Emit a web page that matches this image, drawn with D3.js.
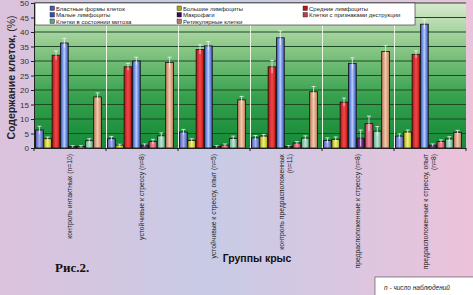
<!DOCTYPE html>
<html>
<head>
<meta charset="utf-8">
<script src="https://cdn.jsdelivr.net/npm/d3@7"></script>
<style>
  body { margin: 0; }
  svg { display: block; font-family: Arial, "Liberation Sans", sans-serif; }
</style>
</head>
<body>
<svg id="chart"></svg>
<script>
const width = 473;
const height = 295;
const margins = { top: 3, right: 7, bottom: 150, left: 34 };

const groups = [
  ["контроль интактных (n=10)"],
  ["устойчивые к стрессу (n=8)"],
  ["устойчивые к стрессу, опыт (n=5)"],
  ["контроль предрасположенных", "(n=11)"],
  ["предрасположенные к стрессу (n=8)"],
  ["предрасположенные к стрессу, опыт", "(n=8)"],
];
const seriesNames = [
  "Бластные формы клеток",
  "Большие лимфоциты",
  "Средние лимфоциты",
  "Малые лимфоциты",
  "Макрофаги",
  "Клетки с признаками деструкции",
  "Клетки в состоянии митоза",
  "Ретикулярные клетки",
];
// values per series, one per group
const blast = [6.2, 3.2, 5.5, 3.5, 2.6, 4.1];
const bigLymph = [3.2, 1.0, 2.6, 4.1, 3.0, 5.5];
const midLymph = [32, 28, 34, 28, 15.8, 32.3];
const smallLymph = [36.2, 30, 35.2, 38, 29.2, 42.7];
const macro = [0.5, 1.0, 0.5, 0.5, 3.4, 1.0];
const destr = [0.5, 2.2, 1.0, 1.7, 8.4, 2.2];
const mitosis = [2.5, 4.2, 3.3, 3.4, 5.8, 3.1];
const reticular = [17.6, 29.5, 16.6, 19.4, 33.3, 5.4];
// error bar half-lengths
const blastErr = [1.3, 0.8, 0.9, 0.8, 0.9, 0.8];
const bigErr = [0.6, 0.3, 0.6, 0.6, 0.8, 0.7];
const midErr = [1.5, 1.2, 1.6, 2.2, 1.4, 1.2];
const smallErr = [1.6, 1.3, 1.5, 2.4, 1.9, 1.6];
const macroErr = [0.3, 0.4, 0.3, 0.3, 2.8, 0.4];
const destrErr = [0.3, 0.8, 0.4, 0.5, 2.6, 0.6];
const mitosisErr = [0.7, 1.0, 0.8, 0.8, 1.6, 0.8];
const reticularErr = [1.4, 1.8, 1.2, 1.8, 2.0, 0.7];
const yTicks = [0, 5, 10, 15, 20, 25, 30, 35, 40, 45, 50];

const seriesValues = [blast, bigLymph, midLymph, smallLymph, macro, destr, mitosis, reticular];
const seriesErrors = [blastErr, bigErr, midErr, smallErr, macroErr, destrErr, mitosisErr, reticularErr];
// [edge, centre] colours of the bar gradients
const colors = [
  ["#4a58a8", "#a4b2ec"],
  ["#a8a818", "#f2f27a"],
  ["#b81414", "#f24848"],
  ["#2c4cc0", "#b4ccff"],
  ["#3a0a4c", "#8a48a8"],
  ["#b83c52", "#f4909e"],
  ["#5aa486", "#bce6d0"],
  ["#b87a5c", "#f4c8ac"],
];

const data = [];
seriesValues.forEach((vals, s) => {
  vals.forEach((v, g) => data.push({ s, g, value: v, err: seriesErrors[s][g] }));
});

const svg = d3.select("#chart").attr("width", width).attr("height", height);
const defs = svg.append("defs");

const bg = defs.append("linearGradient").attr("id", "bg").attr("x1", 0).attr("x2", 1);
bg.append("stop").attr("offset", 0).attr("stop-color", "#dcc2dc");
bg.append("stop").attr("offset", 0.45).attr("stop-color", "#c8cbe6");
bg.append("stop").attr("offset", 1).attr("stop-color", "#ecc2da");

const plotBg = defs.append("linearGradient").attr("id", "plotBg")
  .attr("x1", 0).attr("x2", 0).attr("y1", 0).attr("y2", 1);
plotBg.append("stop").attr("offset", 0).attr("stop-color", "#d8eacf");
plotBg.append("stop").attr("offset", 0.3).attr("stop-color", "#8cc888");
plotBg.append("stop").attr("offset", 0.65).attr("stop-color", "#34a04c");
plotBg.append("stop").attr("offset", 1).attr("stop-color", "#148a38");

colors.forEach((c, i) => {
  const g = defs.append("linearGradient").attr("id", "bar" + i).attr("x1", 0).attr("x2", 1);
  g.append("stop").attr("offset", 0).attr("stop-color", c[0]);
  g.append("stop").attr("offset", 0.5).attr("stop-color", c[1]);
  g.append("stop").attr("offset", 1).attr("stop-color", c[0]);
});

svg.append("rect").attr("width", width).attr("height", height).attr("fill", "url(#bg)");

const x0 = d3.scaleBand()
  .domain(d3.range(groups.length))
  .range([margins.left, width - margins.right]);
const x1 = d3.scaleBand()
  .domain(d3.range(seriesNames.length))
  .range([1, x0.bandwidth() - 4])
  .padding(0.06);
const y = d3.scaleLinear().domain([0, 50]).range([height - margins.bottom + 3, margins.top]);

svg.append("rect")
  .attr("x", margins.left).attr("y", margins.top)
  .attr("width", width - margins.left - margins.right)
  .attr("height", y(0) - margins.top)
  .attr("fill", "url(#plotBg)");

// grid
svg.append("g").selectAll("line").data(yTicks.slice(1)).join("line")
  .attr("x1", margins.left).attr("x2", width - margins.right)
  .attr("y1", (d) => y(d)).attr("y2", (d) => y(d))
  .attr("stroke", "#1c4a24").attr("stroke-width", 1);

svg.append("g").selectAll("line").data(d3.range(1, groups.length)).join("line")
  .attr("x1", (d) => x0(d) + 0.5).attr("x2", (d) => x0(d) + 0.5)
  .attr("y1", margins.top).attr("y2", y(0))
  .attr("stroke", "#eef6e8").attr("stroke-width", 1);

// bars
svg.append("g").selectAll("rect").data(data).join("rect")
  .attr("x", (d) => x0(d.g) + x1(d.s))
  .attr("y", (d) => y(d.value))
  .attr("width", x1.bandwidth())
  .attr("height", (d) => y(0) - y(d.value))
  .attr("fill", (d) => `url(#bar${d.s})`)
  .attr("stroke", "#111")
  .attr("stroke-width", 0.8);

// error bars
const eb = svg.append("g").attr("stroke", "#f4f4f4").attr("stroke-width", 0.8);
eb.selectAll("line.v").data(data).join("line").attr("class", "v")
  .attr("x1", (d) => x0(d.g) + x1(d.s) + x1.bandwidth() / 2)
  .attr("x2", (d) => x0(d.g) + x1(d.s) + x1.bandwidth() / 2)
  .attr("y1", (d) => y(Math.max(0, d.value - d.err)))
  .attr("y2", (d) => y(d.value + d.err));
eb.selectAll("line.c").data(data).join("line").attr("class", "c")
  .attr("x1", (d) => x0(d.g) + x1(d.s) + x1.bandwidth() / 2 - 2)
  .attr("x2", (d) => x0(d.g) + x1(d.s) + x1.bandwidth() / 2 + 2)
  .attr("y1", (d) => y(d.value + d.err))
  .attr("y2", (d) => y(d.value + d.err));

// axes
const yAxis = svg.append("g")
  .attr("transform", `translate(${margins.left},0)`)
  .call(d3.axisLeft(y).tickValues(yTicks).tickSize(3).tickPadding(2));
yAxis.select(".domain").attr("stroke", "#222");
yAxis.selectAll("text").attr("font-size", 8).attr("fill", "#333");
yAxis.selectAll(".tick line").attr("stroke", "#222");

const xAxis = svg.append("g")
  .attr("transform", `translate(0,${y(0)})`)
  .call(d3.axisBottom(x0).tickValues([]).tickSizeOuter(0));
xAxis.select(".domain").attr("stroke", "#222");
xAxis.selectAll("line.sep").data(d3.range(groups.length + 1)).join("line")
  .attr("class", "sep")
  .attr("x1", (d) => (d < groups.length ? x0(d) : width - margins.right))
  .attr("x2", (d) => (d < groups.length ? x0(d) : width - margins.right))
  .attr("y1", 0).attr("y2", 3).attr("stroke", "#222");

// category labels, rotated
const labels = svg.append("g").selectAll("text").data(groups).join("text")
  .attr("transform", (d, i) => {
    const cx = x0(i) + x0.bandwidth() / 2 - (d.length - 1) * 4 + 2;
    return `translate(${cx},${y(0) + 6}) rotate(-90)`;
  })
  .attr("text-anchor", "end")
  .attr("font-size", 6.8)
  .attr("fill", "#222");
labels.selectAll("tspan").data((d) => d).join("tspan")
  .attr("x", 0)
  .attr("dy", (d, i) => (i === 0 ? 0 : 8))
  .text((d) => d);

// axis titles
svg.append("text")
  .attr("transform", `translate(15,${(margins.top + y(0)) / 2 + 2}) rotate(-90)`)
  .attr("text-anchor", "middle")
  .attr("font-size", 10.5)
  .attr("font-weight", "bold")
  .attr("fill", "#222")
  .text("Содержание клеток, ")
  .append("tspan").attr("font-weight", "normal").text("(%)");

svg.append("text")
  .attr("x", 257).attr("y", 262)
  .attr("text-anchor", "middle")
  .attr("font-size", 10.5)
  .attr("font-weight", "bold")
  .attr("fill", "#111")
  .text("Группы крыс");

svg.append("text")
  .attr("x", 55).attr("y", 272)
  .attr("font-family", "'Liberation Serif', 'DejaVu Serif', serif")
  .attr("font-size", 13)
  .attr("font-weight", "bold")
  .attr("fill", "#111")
  .text("Рис.2.");

// legend
const legendBox = svg.append("g");
legendBox.append("rect")
  .attr("x", 35).attr("y", 3).attr("width", 380).attr("height", 22)
  .attr("fill", "#fff").attr("stroke", "#222").attr("stroke-width", 0.6);
const colX = [50, 177, 303];
const leg = legendBox.selectAll("g.item").data(seriesNames).join("g")
  .attr("class", "item")
  .attr("transform", (d, i) => `translate(${colX[i % 3]},${6 + Math.floor(i / 3) * 6.5})`);
leg.append("rect")
  .attr("width", 4.5).attr("height", 4.5)
  .attr("fill", (d, i) => colors[i][0])
  .attr("stroke", "#222").attr("stroke-width", 0.4);
leg.append("text")
  .attr("x", 6).attr("y", 4.5)
  .attr("font-size", 6)
  .attr("fill", "#222")
  .text((d) => d);

// note box
svg.append("rect")
  .attr("x", 375).attr("y", 277).attr("width", 100).attr("height", 20)
  .attr("fill", "#fff").attr("stroke", "#444").attr("stroke-width", 0.6);
svg.append("text")
  .attr("x", 384).attr("y", 290)
  .attr("font-size", 6.5)
  .attr("font-style", "italic")
  .attr("fill", "#222")
  .text("n - число наблюдений");
</script>
</body>
</html>
